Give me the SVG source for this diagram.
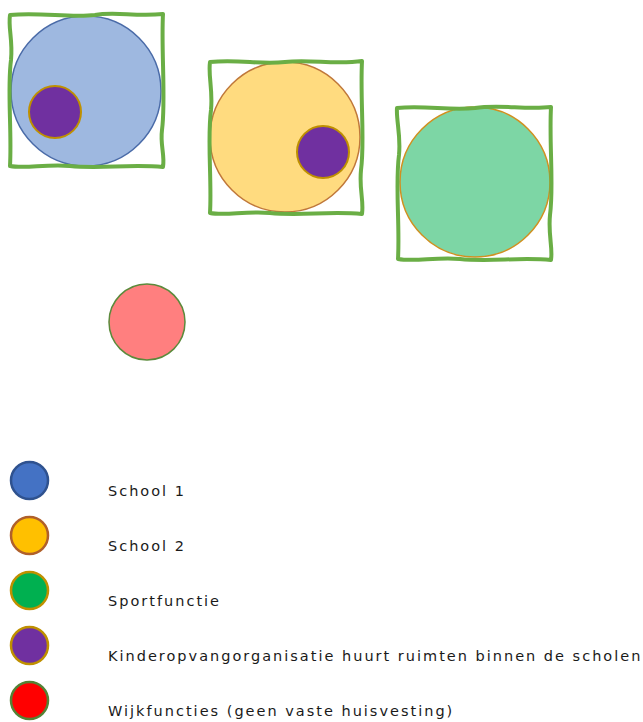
<svg xmlns="http://www.w3.org/2000/svg" width="643" height="722" viewBox="0 0 643 722">
<style>
.frame{fill:none;stroke:#6AAE45;stroke-width:4;stroke-linejoin:round;stroke-linecap:round}
.kid{fill:#7030A0;stroke:#BF9000;stroke-width:2}
.lbl{font-family:"DejaVu Sans",Verdana,sans-serif;font-size:14.5px;letter-spacing:2px;fill:#1a1a1a}
</style>
<rect width="643" height="722" fill="#fff"/>
<g id="school1">
<circle cx="86" cy="91" r="75" fill="#9EB8E0" stroke="#4A6BA8" stroke-width="1.5"/>
<path class="frame" d="M10,15 C40,12 70,18 95,15 C115,11 135,17 163,14 C161,50 166,100 162,130 C160,145 165,155 163,167 C130,164 100,169 70,166 C45,164 25,169 10,166 C12,130 7,90 11,60 C13,40 8,28 10,15 Z"/>
<circle class="kid" cx="55" cy="112" r="26"/>
</g>
<g id="school2">
<circle cx="285" cy="137" r="75" fill="#FFDB7F" stroke="#C0783A" stroke-width="1.5"/>
<path class="frame" d="M210,62 C240,59 260,65 285,62 C310,59 335,65 362,61 C360,100 365,140 361,170 C359,190 364,200 362,214 C330,211 300,216 270,213 C245,211 225,216 210,213 C212,180 207,140 211,110 C213,90 208,75 210,62 Z"/>
<circle class="kid" cx="323" cy="152" r="26"/>
</g>
<g id="sport">
<circle cx="475" cy="182" r="75" fill="#7DD6A5" stroke="#D09020" stroke-width="1.5"/>
<path class="frame" d="M397,108 C425,105 450,111 475,108 C500,104 525,110 551,107 C549,145 554,185 550,215 C548,235 553,248 551,260 C520,257 490,262 460,259 C435,257 415,262 398,259 C400,225 395,185 399,155 C401,135 396,120 397,108 Z"/>
</g>
<g id="wijk">
<circle cx="147" cy="322" r="38" fill="#FF7F7F" stroke="#5B8A3B" stroke-width="1.5"/>
</g>
<g id="legend">
<circle cx="29.5" cy="480.5" r="18.5" fill="#4472C4" stroke="#2F528F" stroke-width="2.5"/>
<circle cx="29.5" cy="535.5" r="18.5" fill="#FFC000" stroke="#B0602A" stroke-width="2.5"/>
<circle cx="29.5" cy="590.5" r="18.5" fill="#00B050" stroke="#BF9000" stroke-width="2.5"/>
<circle cx="29.5" cy="645.5" r="18.5" fill="#7030A0" stroke="#BF9000" stroke-width="2.5"/>
<circle cx="29.5" cy="700.5" r="18.5" fill="#FF0000" stroke="#548235" stroke-width="2.5"/>
<text class="lbl" x="108" y="496">School 1</text>
<text class="lbl" x="108" y="551">School 2</text>
<text class="lbl" x="108" y="606">Sportfunctie</text>
<text class="lbl" x="108" y="661">Kinderopvangorganisatie huurt ruimten binnen de scholen</text>
<text class="lbl" x="108" y="716">Wijkfuncties (geen vaste huisvesting)</text>
</g>
</svg>
